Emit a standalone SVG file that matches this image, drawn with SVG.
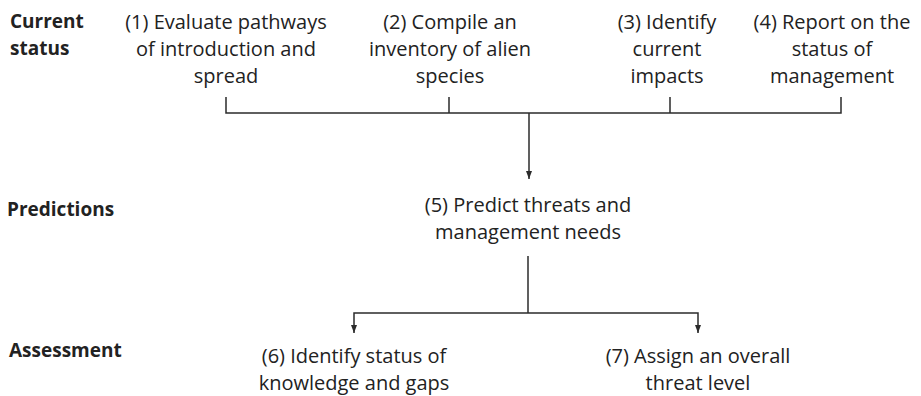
<svg xmlns="http://www.w3.org/2000/svg" width="921" height="396" viewBox="0 0 921 396">
<defs>
<marker id="ah" viewBox="0 0 8 8" refX="8" refY="4" markerWidth="8" markerHeight="8" markerUnits="userSpaceOnUse" orient="auto">
<path d="M0,1 L8,4 L0,7 Z" fill="#2b2b2b"/>
</marker>
<style>
.t{font-family:"Open Sans","Liberation Sans",sans-serif;font-size:20px;fill:#222;text-anchor:middle}
.h{font-family:"Open Sans","Liberation Sans",sans-serif;font-size:19px;font-weight:bold;fill:#222}
.c{fill:none;stroke:#2b2b2b;stroke-width:1.5}
</style>
</defs>
<rect width="921" height="396" fill="#fff"/>
<g id="headers">
<text class="h" x="10" y="28">Current</text>
<text class="h" x="10" y="55">status</text>
<text class="h" x="7" y="216">Predictions</text>
<text class="h" x="9" y="357">Assessment</text>
</g>
<g id="n1"><text class="t" x="226" y="29">(1) Evaluate pathways</text><text class="t" x="226" y="56">of introduction and</text><text class="t" x="226" y="83">spread</text></g>
<g id="n2"><text class="t" x="450" y="29">(2) Compile an</text><text class="t" x="450" y="56">inventory of alien</text><text class="t" x="450" y="83">species</text></g>
<g id="n3"><text class="t" x="667" y="29">(3) Identify</text><text class="t" x="667" y="56">current</text><text class="t" x="667" y="83">impacts</text></g>
<g id="n4"><text class="t" x="832" y="29">(4) Report on the</text><text class="t" x="832" y="56">status of</text><text class="t" x="832" y="83">management</text></g>
<g id="n5"><text class="t" x="528" y="212">(5) Predict threats and</text><text class="t" x="528" y="239">management needs</text></g>
<g id="n6"><text class="t" x="354" y="363">(6) Identify status of</text><text class="t" x="354" y="390">knowledge and gaps</text></g>
<g id="n7"><text class="t" x="698" y="363">(7) Assign an overall</text><text class="t" x="698" y="390">threat level</text></g>
<g id="connectors">
<path class="c" d="M226,97 V113 H841 V97 M449,97 V113 M670,97 V113"/>
<path class="c" d="M529,113 V179" marker-end="url(#ah)"/>
<path class="c" d="M528,256 V313"/>
<path class="c" d="M528,313 H354 V333" marker-end="url(#ah)"/>
<path class="c" d="M528,313 H698 V333" marker-end="url(#ah)"/>
</g>
</svg>
